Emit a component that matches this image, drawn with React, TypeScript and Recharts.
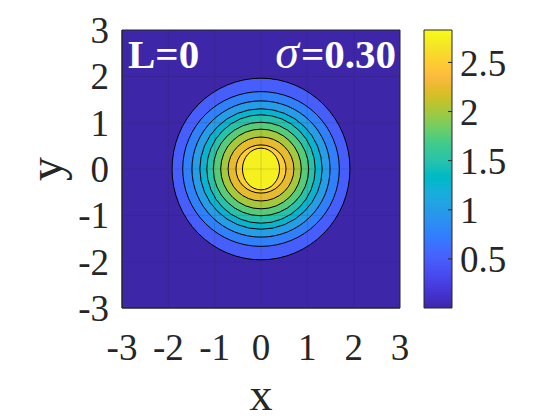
import React from 'react';
import * as R from 'recharts';

const { ScatterChart, Scatter, XAxis, YAxis, CartesianGrid, ReferenceLine, ReferenceArea, Label } = R as any;

// ---------- data ----------
const X_DOMAIN = [-3, 3];
const Y_DOMAIN = [-3, 3];
const X_TICKS = [-3, -2, -1, 0, 1, 2, 3];
const Y_TICKS = [-3, -2, -1, 0, 1, 2, 3];
const GRID_X = [-2, -1, 0, 1, 2];
const GRID_Y = [-2, -1, 0, 1, 2];
const CONTOUR_LEVELS = [0.5, 0.75, 1.0, 1.25, 1.5, 1.75, 2.0, 2.25, 2.5, 2.75];
const RING_RX = [1.92, 1.69, 1.49, 1.32, 1.17, 1.03, 0.87, 0.71, 0.54, 0.4];
const RING_RY = [1.96, 1.67, 1.47, 1.3, 1.17, 1.01, 0.86, 0.69, 0.52, 0.45];
const CENTER_X = 0;
const CENTER_Y = 0;
const COLOR_MIN = 0;
const COLOR_MAX = 2.83;
const CBAR_TICKS = [0.5, 1, 1.5, 2, 2.5];
const CBAR_X = [0, 1];
const TITLE_LEFT = 'L=0';
const SIGMA_VALUE = '=0.30';

const PARULA: number[][] = [
  [0.2422, 0.1504, 0.6603], [0.2504, 0.165, 0.7076], [0.2578, 0.1818, 0.7511], [0.2647, 0.1978, 0.7952],
  [0.2706, 0.2147, 0.8364], [0.2751, 0.2342, 0.871], [0.2783, 0.2559, 0.8991], [0.2803, 0.2782, 0.9221],
  [0.2813, 0.3006, 0.9414], [0.281, 0.3228, 0.9579], [0.2795, 0.3447, 0.9717], [0.276, 0.3667, 0.9829],
  [0.2699, 0.3892, 0.9906], [0.2602, 0.4123, 0.9952], [0.244, 0.4358, 0.9988], [0.2206, 0.4603, 0.9973],
  [0.1963, 0.4847, 0.9892], [0.1834, 0.5074, 0.9798], [0.1786, 0.5289, 0.9682], [0.1764, 0.5499, 0.952],
  [0.1687, 0.5703, 0.9359], [0.154, 0.5902, 0.9218], [0.146, 0.6091, 0.9079], [0.138, 0.6276, 0.8973],
  [0.1248, 0.6459, 0.8883], [0.1113, 0.6635, 0.8763], [0.0952, 0.6798, 0.8598], [0.0689, 0.6948, 0.8394],
  [0.0297, 0.7082, 0.8163], [0.0036, 0.7203, 0.7917], [0.0067, 0.7312, 0.766], [0.0433, 0.7411, 0.7394],
  [0.0964, 0.75, 0.712], [0.1408, 0.7584, 0.6842], [0.1717, 0.767, 0.6554], [0.1938, 0.7758, 0.6251],
  [0.2161, 0.7843, 0.5923], [0.247, 0.7918, 0.5567], [0.2906, 0.7973, 0.5188], [0.3406, 0.8008, 0.4789],
  [0.3909, 0.8029, 0.4354], [0.4456, 0.8024, 0.3909], [0.5044, 0.7993, 0.348], [0.5616, 0.7942, 0.3045],
  [0.6174, 0.7876, 0.2612], [0.672, 0.7793, 0.2227], [0.7242, 0.7698, 0.191], [0.7738, 0.7598, 0.1646],
  [0.8203, 0.7498, 0.1535], [0.8634, 0.7406, 0.1596], [0.9035, 0.733, 0.1774], [0.9393, 0.7288, 0.21],
  [0.9728, 0.7298, 0.2394], [0.9956, 0.7434, 0.2371], [0.997, 0.7659, 0.2199], [0.9952, 0.7893, 0.2028],
  [0.9892, 0.8136, 0.1885], [0.9786, 0.8386, 0.1766], [0.9676, 0.8639, 0.1643], [0.961, 0.889, 0.1537],
  [0.9597, 0.9135, 0.1423], [0.9628, 0.9373, 0.1265], [0.9691, 0.9606, 0.106], [0.9769, 0.9839, 0.0805],
];

// ---------- helpers ----------
function parulaAt(t: number): string {
  const tt = Math.max(0, Math.min(1, t)) * (PARULA.length - 1);
  const i = Math.floor(tt);
  const j = Math.min(PARULA.length - 1, i + 1);
  const f = tt - i;
  const c = PARULA[i].map((v, k) => v + (PARULA[j][k] - v) * f);
  return `rgb(${Math.round(c[0] * 255)},${Math.round(c[1] * 255)},${Math.round(c[2] * 255)})`;
}
const colorOf = (v: number) => parulaAt((v - COLOR_MIN) / (COLOR_MAX - COLOR_MIN));

const FONT = '"Liberation Serif", "Times New Roman", serif';
const AXIS_COLOR = '#262626';
const usePlotAreaSafe: () => any = (R as any).usePlotArea ?? (() => null);

const rings = CONTOUR_LEVELS.map((level, i) => ({
  x: CENTER_X,
  y: CENTER_Y,
  rx: RING_RX[i],
  ry: RING_RY[i],
  level,
}));

// colorbar: one invisible anchor point per tick so the axis has data
const cbarData = CBAR_TICKS.map((v) => ({ x: CBAR_X[0], y: v }));

function RingShape(props: any) {
  const plot = usePlotAreaSafe();
  const { cx, cy, payload } = props;
  const w = plot && plot.width ? plot.width : 278;
  const h = plot && plot.height ? plot.height : 278;
  const kx = w / (X_DOMAIN[1] - X_DOMAIN[0]);
  const ky = h / (Y_DOMAIN[1] - Y_DOMAIN[0]);
  return (
    <ellipse
      cx={cx}
      cy={cy}
      rx={payload.rx * kx}
      ry={payload.ry * ky}
      fill={colorOf(payload.level)}
      stroke="#000"
      strokeWidth={1}
    />
  );
}

const XLabel = (p: any) => {
  const vb = p.viewBox;
  return (
    <text x={vb.x + vb.width / 2} y={vb.y + vb.height - 10} textAnchor="middle" fontFamily={FONT} fontSize={46} fill={AXIS_COLOR}>
      x
    </text>
  );
};
const YLabel = (p: any) => {
  const vb = p.viewBox;
  const x = vb.x + 40;
  const y = vb.y + vb.height / 2;
  return (
    <text x={x} y={y} transform={`rotate(-90, ${x}, ${y})`} textAnchor="middle" fontFamily={FONT} fontSize={48} fill={AXIS_COLOR}>
      y
    </text>
  );
};
const LeftTitle = (p: any) => {
  const vb = p.viewBox;
  return (
    <text x={vb.x + 6} y={vb.y + 38} fontFamily={FONT} fontSize={41} fontWeight="bold" fill="#fff">
      {TITLE_LEFT}
    </text>
  );
};
const RightTitle = (p: any) => {
  const vb = p.viewBox;
  return (
    <text x={vb.x + vb.width - 4} y={vb.y + 38} textAnchor="end" fontFamily={FONT} fontSize={41} fill="#fff">
      <tspan fontStyle="italic" fontSize={48}>σ</tspan>
      <tspan fontWeight="bold" dx={2}>{SIGMA_VALUE}</tspan>
    </text>
  );
};

const tickStyle = { fill: AXIS_COLOR, fontSize: 37, fontFamily: FONT };

export default function App() {
  const navy = parulaAt(0);
  return (
    <div style={{ position: 'absolute', left: 0, top: 0, width: 560, height: 420, background: '#fff' }}>
      <div style={{ position: 'absolute', left: 0, top: 0 }}>
        <ScatterChart width={560} height={420} margin={{ top: 30, right: 160, bottom: 0, left: 22 }}>
          <CartesianGrid fill={navy} horizontal={false} vertical={false} stroke="none" />
          <XAxis
            type="number"
            dataKey="x"
            domain={X_DOMAIN}
            ticks={X_TICKS}
            interval={0}
            height={112}
            tickSize={0}
            tickMargin={26}
            tickLine={false}
            axisLine={{ stroke: AXIS_COLOR }}
            tick={tickStyle}
            allowDataOverflow
          >
            <Label content={XLabel} />
          </XAxis>
          <YAxis
            type="number"
            dataKey="y"
            domain={Y_DOMAIN}
            ticks={Y_TICKS}
            interval={0}
            width={100}
            tickSize={0}
            tickMargin={13}
            tickLine={false}
            axisLine={{ stroke: AXIS_COLOR }}
            tick={tickStyle}
            allowDataOverflow
          >
            <Label content={YLabel} />
          </YAxis>
          <Scatter data={rings} isAnimationActive={false} shape={(p: any) => <RingShape {...p} />} />
          {GRID_X.map((v) => (
            <ReferenceLine key={'gx' + v} x={v} stroke={AXIS_COLOR} strokeOpacity={0.15} zIndex={700} />
          ))}
          {GRID_Y.map((v) => (
            <ReferenceLine key={'gy' + v} y={v} stroke={AXIS_COLOR} strokeOpacity={0.15} zIndex={700} />
          ))}
          <ReferenceArea
            x1={X_DOMAIN[0]}
            x2={X_DOMAIN[1]}
            y1={Y_DOMAIN[0]}
            y2={Y_DOMAIN[1]}
            fill="none"
            fillOpacity={0}
            stroke={AXIS_COLOR}
            strokeOpacity={1}
            ifOverflow="visible"
            zIndex={800}
          >
            <Label content={LeftTitle} />
            <Label content={RightTitle} />
          </ReferenceArea>
        </ScatterChart>
      </div>
      <div style={{ position: 'absolute', left: 400, top: 0 }}>
        <ScatterChart width={160} height={420} margin={{ top: 30, right: 8, bottom: 112, left: 24 }}>
          <defs>
            <linearGradient id="parulaGrad" x1="0" y1="1" x2="0" y2="0">
              {PARULA.map((c, i) => (
                <stop
                  key={i}
                  offset={i / (PARULA.length - 1)}
                  stopColor={`rgb(${Math.round(c[0] * 255)},${Math.round(c[1] * 255)},${Math.round(c[2] * 255)})`}
                />
              ))}
            </linearGradient>
          </defs>
          <XAxis type="number" dataKey="x" domain={CBAR_X} hide allowDataOverflow />
          <YAxis
            type="number"
            dataKey="y"
            orientation="right"
            domain={[COLOR_MIN, COLOR_MAX]}
            ticks={CBAR_TICKS}
            interval={0}
            width={100}
            tickSize={-4}
            tickMargin={12}
            axisLine={false}
            tickLine={{ stroke: AXIS_COLOR }}
            tick={tickStyle}
            allowDataOverflow
          />
          <ReferenceArea
            x1={CBAR_X[0]}
            x2={CBAR_X[1]}
            y1={COLOR_MIN}
            y2={COLOR_MAX}
            fill="url(#parulaGrad)"
            fillOpacity={1}
            stroke={AXIS_COLOR}
            strokeOpacity={1}
            ifOverflow="visible"
            zIndex={-50}
          />
          <Scatter data={cbarData} isAnimationActive={false} shape={() => <g />} />
        </ScatterChart>
      </div>
    </div>
  );
}
